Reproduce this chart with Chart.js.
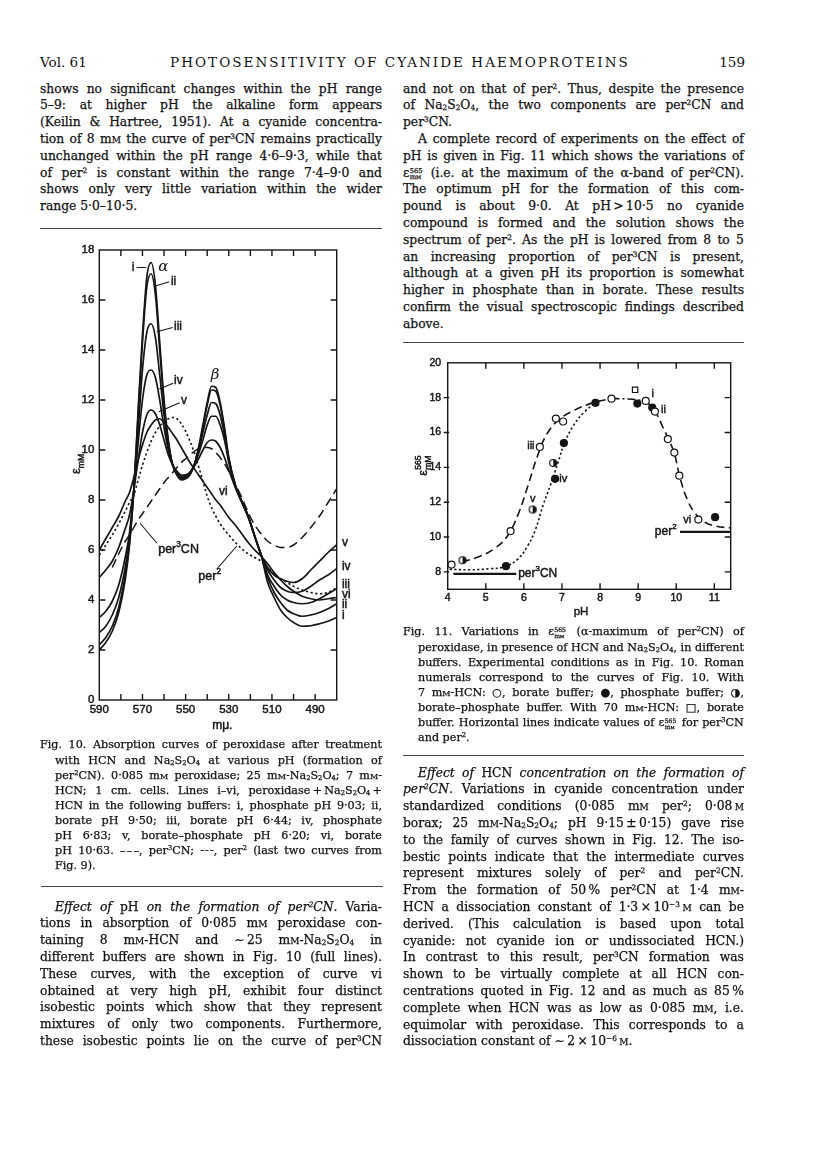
<!DOCTYPE html>
<html>
<head>
<meta charset="utf-8">
<script src="https://cdn.jsdelivr.net/npm/chart.js@4.4.1/dist/chart.umd.min.js"></script>
<style>
  body { margin: 0; background: #fff; }
  #page { position: relative; width: 816px; height: 1155px; overflow: hidden; color: #111; font-family: "DejaVu Serif", serif; -webkit-text-stroke: 0.25px #111; }
  .ln { position: absolute; display: flex; justify-content: space-between; white-space: nowrap; }
  .hd { position: absolute; top: 53px; font-size: 13.5px; line-height: 18px; white-space: nowrap; -webkit-text-stroke: 0; }
  .rule { position: absolute; height: 0; border-top: 1px solid #444; }
  sup { font-size: .6em; vertical-align: .55em; line-height: 0; }
  sub { font-size: .6em; vertical-align: -.2em; line-height: 0; }
  k { font-variant: small-caps; }
  z { display: inline-flex; flex-direction: column; font-size: .55em; line-height: .95; vertical-align: .55em; margin: 0 .2em 0 .05em; }
  zu, zd { display: block; }
  canvas { position: absolute; }
</style>
</head>
<body>
<div id="page">
  <div class="hd" style="left:40px">Vol. 61</div>
  <div class="hd" style="left:170px;letter-spacing:2.05px">PHOTOSENSITIVITY OF CYANIDE HAEMOPROTEINS</div>
  <div class="hd" style="right:71px">159</div>
  <div class="rule" style="left:40px;width:342px;top:228px"></div>
  <div class="rule" style="left:403px;width:341px;top:342px"></div>
  <div class="rule" style="left:403px;width:341px;top:755px"></div>
  <div class="rule" style="left:41px;width:342px;top:886px"></div>
  <canvas id="fig10" width="310" height="500" style="left:55px;top:238px"></canvas>
  <canvas id="fig11" width="360" height="275" style="left:395px;top:350px"></canvas>
</div>
<script>
const ink = '#151515';
const sans = '"Liberation Sans", Arial, sans-serif';

// ---- Fig. 10: absorption curves (wavelength, m-mu) ----
const wl = [590, 587, 584, 581, 578, 576, 574, 572, 570, 568, 566, 564, 562, 560, 558, 556, 554, 552, 550, 548, 546, 544,
            542, 540, 538, 536, 534, 532, 530, 527, 524, 521, 518, 515, 512, 509, 506, 503, 500, 496, 492, 488, 484, 480];
const curveI   = [2.0, 2.3, 2.75, 3.5, 4.8, 6.2, 8.4, 11.6, 14.6, 16.9, 17.5, 16.6, 14.3, 12.0, 10.4, 9.4, 9.0, 8.8, 8.85, 9.0, 9.4, 10.1,
                  11.0, 11.9, 12.55, 12.5, 11.9, 10.9, 9.7, 8.6, 7.95, 7.35, 6.55, 5.8, 4.7, 4.1, 3.6, 3.3, 3.1, 2.95, 2.97, 3.05, 3.15, 3.3];
const curveII  = [2.2, 2.5, 2.95, 3.7, 5.0, 6.3, 8.4, 11.4, 14.3, 16.5, 17.05, 16.2, 14.0, 11.8, 10.3, 9.4, 9.0, 8.85, 8.9, 9.05, 9.4, 10.05,
                  10.9, 11.8, 12.4, 12.35, 11.8, 10.8, 9.65, 8.6, 7.95, 7.35, 6.55, 5.8, 4.9, 4.3, 3.9, 3.6, 3.45, 3.35, 3.4, 3.5, 3.65, 3.85];
const curveIII = [2.7, 2.95, 3.4, 4.1, 5.3, 6.5, 8.4, 10.8, 13.2, 14.7, 15.05, 14.5, 13.0, 11.4, 10.1, 9.4, 9.05, 8.9, 8.95, 9.1, 9.4, 9.95,
                  10.7, 11.4, 11.9, 11.85, 11.4, 10.6, 9.6, 8.6, 7.95, 7.35, 6.55, 5.8, 5.0, 4.55, 4.2, 4.0, 3.9, 3.85, 3.9, 4.05, 4.25, 4.45];
const curveIV  = [3.3, 3.55, 3.95, 4.6, 5.7, 6.7, 8.4, 10.3, 12.0, 13.0, 13.2, 12.9, 12.0, 10.9, 10.0, 9.4, 9.1, 8.95, 9.0, 9.1, 9.4, 9.85,
                  10.4, 11.0, 11.35, 11.35, 11.0, 10.4, 9.5, 8.55, 7.95, 7.35, 6.55, 5.8, 5.2, 4.8, 4.5, 4.35, 4.3, 4.35, 4.55, 4.8, 5.0, 5.25];
const curveV   = [4.9, 5.2, 5.55, 6.1, 6.85, 7.4, 8.4, 9.6, 10.7, 11.4, 11.6, 11.45, 11.0, 10.4, 9.8, 9.4, 9.15, 9.0, 9.0, 9.1, 9.35, 9.65,
                  10.0, 10.3, 10.4, 10.35, 10.1, 9.7, 9.2, 8.5, 7.9, 7.3, 6.55, 5.8, 5.3, 5.0, 4.85, 4.75, 4.7, 4.85, 5.2, 5.55, 5.9, 6.2];
const curveVI  = [6.0, 6.45, 6.9, 7.35, 7.95, 8.3, 8.9, 9.6, 10.2, 10.7, 11.0, 11.2, 11.25, 11.1, 10.9, 10.65, 10.4, 10.1, 9.8, 9.5, 9.25, 9.0,
                  8.75, 8.5, 8.25, 8.0, 7.8, 7.55, 7.3, 7.0, 6.65, 6.3, 6.0, 5.75, 5.45, 5.1, 4.8, 4.55, 4.35, 4.15, 4.05, 4.0, 4.05, 4.1];
const per3CN   = [null, null, 5.3, 5.85, 6.35, 6.6, 6.9, 7.2, 7.45, 7.7, 7.95, 8.2, 8.45, 8.7, 8.9, 9.1, 9.3, 9.5, 9.65, 9.8, 9.95, 10.05,
                  10.1, 10.1, 10.05, 9.9, 9.7, 9.45, 9.15, 8.65, 8.1, 7.5, 7.0, 6.65, 6.35, 6.2, 6.1, 6.1, 6.2, 6.5, 6.9, 7.35, 7.9, 8.45];
const per2     = [5.8, 6.2, 6.6, 7.05, 7.55, 7.9, 8.2, 8.8, 9.4, 9.9, 10.35, 10.7, 10.95, 11.15, 11.25, 11.3, 11.25, 11.05, 10.75, 10.35, 9.9, 9.35,
                  8.75, 8.15, 7.7, 7.35, 7.05, 6.8, 6.6, 6.3, 6.05, 5.85, 5.7, 5.55, 5.3, 5.05, 4.85, 4.7, 4.55, 4.4, 4.3, 4.25, 4.3, 4.5];
const fig10XLabels = [590, 570, 550, 530, 510, 490];
const fig10XMarks = [580, 570, 560, 550, 540, 530, 520, 510, 500, 490];
const fig10YMarks = [2, 4, 6, 8, 10, 12, 14, 16];

// ---- Fig. 11: epsilon 565 against pH ----
const boratePH = [4.10, 5.65, 6.42, 6.84, 7.03, 8.30, 9.20, 9.44, 9.78, 9.95, 10.08, 10.58];
const borateE  = [8.42, 10.34, 15.17, 16.80, 16.63, 17.94, 17.81, 17.20, 15.62, 14.85, 13.52, 11.00];
const phosPH   = [5.53, 6.82, 7.05, 7.88, 8.98, 9.37, 11.02];
const phosE    = [8.33, 13.34, 15.39, 17.70, 17.66, 17.43, 11.14];
const mixPH    = [4.39, 6.23, 6.77];
const mixE     = [8.67, 11.58, 14.25];
const hcn70PH  = [8.92];
const hcn70E   = [18.45];
const borUpPH  = [4.38, 4.8, 5.2, 5.55, 5.85, 6.1, 6.35, 6.6, 6.9, 7.3, 7.8, 8.3];
const borUpE   = [8.58, 8.85, 9.3, 10.0, 11.3, 12.9, 14.6, 15.9, 16.7, 17.25, 17.7, 17.95];
const borTopPH = [8.3, 8.75, 9.2];
const borTopE  = [17.95, 17.92, 17.82];
const borDnPH  = [9.2, 9.45, 9.65, 9.8, 9.95, 10.1, 10.3, 10.5, 10.75, 11.05, 11.43];
const borDnE   = [17.82, 17.2, 16.3, 15.6, 14.8, 13.4, 12.1, 11.35, 10.85, 10.62, 10.52];
const phCurvePH = [4.05, 4.6, 5.1, 5.5, 5.85, 6.1, 6.3, 6.5, 6.7, 6.9, 7.05, 7.3, 7.6, 7.88];
const phCurveE  = [8.15, 8.12, 8.18, 8.3, 8.75, 9.5, 10.4, 11.8, 13.0, 14.3, 15.3, 16.4, 17.2, 17.7];
const per3LinePH = [4.15, 5.8];
const per3LineE  = [7.88, 7.88];
const per2LinePH = [10.1, 11.43];
const per2LineE  = [10.3, 10.3];
const fig11XMarks = [5, 6, 7, 8, 9, 10, 11];
const fig11YMarks = [8, 10, 12, 14, 16, 18];

// text labels inside the figures (data units)
const fig10Labels = [
  { t: 'i', x: 574.4, y: 17.3, align: 'center' }, { t: 'ii', x: 556.8, y: 16.73, align: 'left' },
  { t: 'iii', x: 555.4, y: 14.93, align: 'left' }, { t: 'iv', x: 555.4, y: 12.76, align: 'left' },
  { t: 'v', x: 552.1, y: 11.97, align: 'left' }, { t: 'vi', x: 532.5, y: 8.33, align: 'center' },
  { t: 'v', x: 477.6, y: 6.29, align: 'left' }, { t: 'iv', x: 477.6, y: 5.33, align: 'left' },
  { t: 'iii', x: 477.6, y: 4.6, align: 'left' }, { t: 'vi', x: 477.6, y: 4.2, align: 'left' },
  { t: 'ii', x: 477.6, y: 3.8, align: 'left' }, { t: 'i', x: 477.6, y: 3.36, align: 'left' }
];
const fig10Greek = [{ t: 'α', x: 560.3, y: 17.33 }, { t: 'β', x: 536.4, y: 13.0 }];
const fig10Leaders = [[572.7, 17.3, 568.2, 17.3], [564.4, 16.55, 557.6, 16.73], [563.4, 14.73, 556.0, 14.9],
                      [562.2, 12.44, 555.8, 12.67], [562.4, 11.53, 552.8, 11.89], [571.1, 7.07, 563.3, 6.27],
                      [535.6, 5.23, 526.3, 6.16]];
const fig11Labels = [
  { t: 'iii', x: 6.28, y: 15.2, align: 'right' }, { t: 'v', x: 6.23, y: 12.2, align: 'center' },
  { t: 'iv', x: 6.93, y: 13.34, align: 'left' }, { t: 'i', x: 9.38, y: 18.2, align: 'center' },
  { t: 'ii', x: 9.6, y: 17.28, align: 'left' }, { t: 'vi', x: 10.29, y: 11.0, align: 'center' }
];

function pts(xs, ys) {
  const out = [];
  xs.forEach((v, i) => { if (ys[i] !== null) out.push({ x: v, y: ys[i] }); });
  return out;
}

// text with superscripts / subscripts: parts = [text, shift(1 up, -1 down), noAdvance]
function rich(ctx, parts, x, y, size, align) {
  const w = parts.map(p => { ctx.font = (p[1] ? size * 0.66 : size) + 'px ' + sans; return p[2] ? 0 : ctx.measureText(p[0]).width; });
  const total = w.reduce((a, b) => a + b, 0);
  let cx = align === 'right' ? x - total : align === 'center' ? x - total / 2 : x;
  ctx.textAlign = 'left';
  ctx.textBaseline = 'middle';
  ctx.strokeStyle = ink;
  ctx.lineWidth = 0.45;
  parts.forEach((p, i) => {
    ctx.font = (p[1] ? size * 0.66 : size) + 'px ' + sans;
    const ty = y - p[1] * size * 0.4;
    ctx.fillText(p[0], cx, ty);
    ctx.strokeText(p[0], cx, ty);
    cx += w[i];
  });
}

function frame(marks, outLeft) {
  return {
    id: 'frame',
    afterDraw(chart) {
      const { ctx, chartArea: a, scales: { x, y } } = chart;
      const L = 6;
      ctx.save();
      ctx.strokeStyle = ink;
      ctx.lineWidth = 1.4;
      ctx.strokeRect(a.left, a.top, a.right - a.left, a.bottom - a.top);
      ctx.beginPath();
      marks.x.forEach(v => {
        const p = x.getPixelForValue(v);
        ctx.moveTo(p, a.bottom); ctx.lineTo(p, a.bottom - L);
        ctx.moveTo(p, a.top); ctx.lineTo(p, a.top + L);
      });
      marks.y.forEach(v => {
        const p = y.getPixelForValue(v);
        if (outLeft) { ctx.moveTo(a.left - 4, p); ctx.lineTo(a.left + 1.5, p); }
        else { ctx.moveTo(a.left, p); ctx.lineTo(a.left + L, p); }
        ctx.moveTo(a.right, p); ctx.lineTo(a.right - L, p);
      });
      ctx.stroke();
      ctx.restore();
    }
  };
}

const line = (data, dash, extra) => Object.assign({
  data, showLine: true, pointRadius: 0, borderColor: ink, borderWidth: 1.7, borderDash: dash || [],
  cubicInterpolationMode: 'monotone', fill: false
}, extra || {});

const tickStyle = (size, pad) => ({
  padding: pad, color: ink, font: { family: sans, size }, maxRotation: 0,
  textStrokeColor: ink, textStrokeWidth: 0.45
});

// ---------- Fig. 10 ----------
new Chart(document.getElementById('fig10'), {
  type: 'scatter',
  data: {
    datasets: [
      line(pts(wl, curveI)), line(pts(wl, curveII)), line(pts(wl, curveIII)),
      line(pts(wl, curveIV)), line(pts(wl, curveV)), line(pts(wl, curveVI)),
      line(pts(wl, per3CN), [9, 5], { borderWidth: 1.5 }),
      line(pts(wl, per2), [2.2, 2.6], { borderWidth: 1.6 })
    ]
  },
  options: {
    responsive: false, animation: false, devicePixelRatio: 1, events: [],
    layout: { padding: { top: 12, right: 28.3, left: 0, bottom: 0 } },
    plugins: { legend: { display: false }, tooltip: { enabled: false } },
    scales: {
      x: {
        type: 'linear', min: 480, max: 590, reverse: true,
        afterBuildTicks: s => { s.ticks = fig10XLabels.map(v => ({ value: v })); },
        afterFit: s => { s.height = 38; },
        grid: { display: false, drawTicks: false }, border: { display: false },
        ticks: tickStyle(11.5, 3.4)
      },
      y: {
        type: 'linear', min: 0, max: 18,
        afterFit: s => { s.width = 44.3; },
        grid: { display: false, drawTicks: false }, border: { display: false },
        ticks: Object.assign(tickStyle(11.5, 5), { stepSize: 2 })
      }
    }
  },
  plugins: [frame({ x: fig10XMarks, y: fig10YMarks }, false), {
    id: 'labels10',
    afterDraw(chart) {
      const { ctx, chartArea: a, scales: { x, y } } = chart;
      ctx.save();
      ctx.fillStyle = ink;
      ctx.strokeStyle = ink;
      ctx.lineWidth = 1.1;
      ctx.beginPath();
      fig10Leaders.forEach(l => {
        ctx.moveTo(x.getPixelForValue(l[0]), y.getPixelForValue(l[1]));
        ctx.lineTo(x.getPixelForValue(l[2]), y.getPixelForValue(l[3]));
      });
      ctx.stroke();
      fig10Labels.forEach(l => rich(ctx, [[l.t, 0]], x.getPixelForValue(l.x), y.getPixelForValue(l.y), 12, l.align));
      ctx.font = 'italic 15px "DejaVu Serif", serif';
      ctx.textAlign = 'center';
      fig10Greek.forEach(g => ctx.fillText(g.t, x.getPixelForValue(g.x), y.getPixelForValue(g.y)));
      rich(ctx, [['per', 0], ['3', 1], ['CN', 0]], x.getPixelForValue(562.7), y.getPixelForValue(6.0), 12.5, 'left');
      rich(ctx, [['per', 0], ['2', 1]], x.getPixelForValue(544.1), y.getPixelForValue(4.93), 12.5, 'left');
      rich(ctx, [['m', 0], ['\u03bc.', 0]], x.getPixelForValue(533), a.bottom + 26, 12, 'center');
      ctx.translate(a.left - 23, y.getPixelForValue(9.44));
      ctx.rotate(-Math.PI / 2);
      rich(ctx, [['\u03b5', 0], ['mM', -1]], 0, 0, 13, 'center');
      ctx.restore();
    }
  }]
});

// ---------- Fig. 11 ----------
function halfMarker() {
  const c = document.createElement('canvas');
  c.width = 10; c.height = 10;
  const g = c.getContext('2d');
  g.fillStyle = '#fff';
  g.beginPath(); g.arc(5, 5, 3.5, 0, Math.PI * 2); g.fill();
  g.fillStyle = ink;
  g.beginPath(); g.arc(5, 5, 3.5, -Math.PI / 2, Math.PI / 2); g.closePath(); g.fill();
  g.strokeStyle = ink; g.lineWidth = 1.2;
  g.beginPath(); g.arc(5, 5, 3.5, 0, Math.PI * 2); g.stroke();
  return c;
}
const marks = (data, fillc, style, r) => ({
  data, showLine: false, pointStyle: style || 'circle', pointRadius: r || 3.5,
  pointBackgroundColor: fillc, pointBorderColor: ink, pointBorderWidth: 1.2
});

new Chart(document.getElementById('fig11'), {
  type: 'scatter',
  data: {
    datasets: [
      marks(pts(boratePH, borateE), '#fff'),
      marks(pts(phosPH, phosE), ink),
      marks(pts(mixPH, mixE), ink, halfMarker()),
      marks(pts(hcn70PH, hcn70E), '#fff', 'rect', 3.8),
      line(pts(borUpPH, borUpE), [8, 4.5], { cubicInterpolationMode: 'default', tension: 0.4, borderWidth: 1.6 }),
      line(pts(borTopPH, borTopE), [8, 3, 2, 3], { cubicInterpolationMode: 'default', tension: 0.4, borderWidth: 1.6 }),
      line(pts(borDnPH, borDnE), [8, 4.5], { cubicInterpolationMode: 'default', tension: 0.4, borderWidth: 1.6 }),
      line(pts(phCurvePH, phCurveE), [2.2, 2.4], { cubicInterpolationMode: 'default', tension: 0.4, borderWidth: 1.6 }),
      line(pts(per3LinePH, per3LineE), [], { borderWidth: 2.2 }),
      line(pts(per2LinePH, per2LineE), [], { borderWidth: 2.2 })
    ]
  },
  options: {
    responsive: false, animation: false, devicePixelRatio: 1, events: [],
    layout: { padding: { top: 11, right: 24.3, left: 0, bottom: 0 } },
    plugins: { legend: { display: false }, tooltip: { enabled: false } },
    scales: {
      x: {
        type: 'linear', min: 4, max: 11.43,
        afterBuildTicks: s => { s.ticks = [4, 5, 6, 7, 8, 9, 10, 11].map(v => ({ value: v })); },
        afterFit: s => { s.height = 35.7; },
        grid: { display: false, drawTicks: false }, border: { display: false },
        ticks: tickStyle(10.5, 2.4)
      },
      y: {
        type: 'linear', min: 7, max: 20,
        afterBuildTicks: s => { s.ticks = [8, 10, 12, 14, 16, 18, 20].map(v => ({ value: v })); },
        afterFit: s => { s.width = 52.7; },
        grid: { display: false, drawTicks: false }, border: { display: false },
        ticks: tickStyle(10.5, 6.5)
      }
    }
  },
  plugins: [frame({ x: fig11XMarks, y: fig11YMarks }, true), {
    id: 'labels11',
    afterDraw(chart) {
      const { ctx, chartArea: a, scales: { x, y } } = chart;
      ctx.save();
      ctx.fillStyle = ink;
      fig11Labels.forEach(l => rich(ctx, [[l.t, 0]], x.getPixelForValue(l.x), y.getPixelForValue(l.y), 11, l.align));
      rich(ctx, [['per', 0], ['3', 1], ['CN', 0]], x.getPixelForValue(5.85), y.getPixelForValue(7.9), 12, 'left');
      rich(ctx, [['per', 0], ['2', 1]], x.getPixelForValue(10.01), y.getPixelForValue(10.3), 12, 'right');
      rich(ctx, [['pH', 0]], x.getPixelForValue(7.5), a.bottom + 22.4, 11.5, 'center');
      ctx.translate(a.left - 24, y.getPixelForValue(14.1));
      ctx.rotate(-Math.PI / 2);
      rich(ctx, [['\u03b5', 0], ['565', 1, true], ['mM', -1]], 0, 0, 13, 'center');
      ctx.restore();
    }
  }]
});

// ---------- page text ----------
const eps = 'ε<z><zu>565</zu><zd>m<k>m</k></zd></z>';
const blocks = [
  { x: 40, y: 89, w: 342, lh: 16.8, size: 12.3, ind: 15, lines: [
    'shows no significant changes within the pH range',
    '5–9: at higher pH the alkaline form appears',
    '(Keilin &amp; Hartree, 1951). At a cyanide concentra-',
    'tion of 8 m<k>m</k> the curve of per<sup>3</sup>CN remains practically',
    'unchanged within the pH range 4·6–9·3, while that',
    'of per<sup>2</sup> is constant within the range 7·4–9·0 and',
    'shows only very little variation within the wider',
    'range 5·0–10·5.$'] },
  { x: 403, y: 89, w: 341, lh: 16.8, size: 12.3, ind: 15, lines: [
    'and not on that of per<sup>2</sup>. Thus, despite the presence',
    'of Na<sub>2</sub>S<sub>2</sub>O<sub>4</sub>, the two components are per<sup>2</sup>CN and',
    'per<sup>3</sup>CN.$',
    '¶A complete record of experiments on the effect of',
    'pH is given in Fig. 11 which shows the variations of',
    eps + ' (i.e. at the maximum of the α-band of per<sup>2</sup>CN).',
    'The optimum pH for the formation of this com-',
    'pound is about 9·0. At pH&#8201;&gt;&#8201;10·5 no cyanide',
    'compound is formed and the solution shows the',
    'spectrum of per<sup>2</sup>. As the pH is lowered from 8 to 5',
    'an increasing proportion of per<sup>3</sup>CN is present,',
    'although at a given pH its proportion is somewhat',
    'higher in phosphate than in borate. These results',
    'confirm the visual spectroscopic findings described',
    'above.$'] },
  { x: 40, y: 745, w: 342, lh: 15.1, size: 11.2, ind: 15, lines: [
    'Fig. 10. Absorption curves of peroxidase after treatment',
    '¶with HCN and Na<sub>2</sub>S<sub>2</sub>O<sub>4</sub> at various pH (formation of',
    '¶per<sup>2</sup>CN). 0·085 m<k>m</k> peroxidase; 25 m<k>m</k>-Na<sub>2</sub>S<sub>2</sub>O<sub>4</sub>; 7 m<k>m</k>-',
    '¶HCN; 1 cm. cells. Lines i–vi, peroxidase&#8201;+&#8201;Na<sub>2</sub>S<sub>2</sub>O<sub>4</sub>&#8201;+',
    '¶HCN in the following buffers: i, phosphate pH 9·03; ii,',
    '¶borate pH 9·50; iii, borate pH 6·44; iv, phosphate',
    '¶pH 6·83; v, borate–phosphate pH 6·20; vi, borate',
    '¶pH 10·63. –&#8202;–&#8202;–, per<sup>3</sup>CN; -&#8202;-&#8202;-, per<sup>2</sup> (last two curves from',
    '¶Fig. 9).$'] },
  { x: 40, y: 907, w: 342, lh: 16.8, size: 12.3, ind: 15, lines: [
    '¶<i>Effect</i> <i>of</i> pH <i>on</i> <i>the</i> <i>formation</i> <i>of</i> <i>per<sup>2</sup>CN</i>. Varia-',
    'tions in absorption of 0·085 m<k>m</k> peroxidase con-',
    'taining 8 m<k>m</k>-HCN and ∼&#8201;25 m<k>m</k>-Na<sub>2</sub>S<sub>2</sub>O<sub>4</sub> in',
    'different buffers are shown in Fig. 10 (full lines).',
    'These curves, with the exception of curve vi',
    'obtained at very high pH, exhibit four distinct',
    'isobestic points which show that they represent',
    'mixtures of only two components. Furthermore,',
    'these isobestic points lie on the curve of per<sup>3</sup>CN'] },
  { x: 403, y: 632, w: 341, lh: 15.1, size: 11.2, ind: 15, lines: [
    'Fig. 11. Variations in ' + eps + ' (α-maximum of per<sup>2</sup>CN) of',
    '¶peroxidase, in presence of HCN and Na<sub>2</sub>S<sub>2</sub>O<sub>4</sub>, in different',
    '¶buffers. Experimental conditions as in Fig. 10. Roman',
    '¶numerals correspond to the curves of Fig. 10. With',
    '¶7 m<k>m</k>-HCN: ○, borate buffer; ●, phosphate buffer; ◑,',
    '¶borate–phosphate buffer. With 70 m<k>m</k>-HCN: □, borate',
    '¶buffer. Horizontal lines indicate values of ' + eps + ' for per<sup>3</sup>CN',
    '¶and per<sup>2</sup>.$'] },
  { x: 403, y: 773, w: 341, lh: 16.8, size: 12.3, ind: 15, lines: [
    '¶<i>Effect</i> <i>of</i> HCN <i>concentration</i> <i>on</i> <i>the</i> <i>formation</i> <i>of</i>',
    '<i>per<sup>2</sup>CN</i>. Variations in cyanide concentration under',
    'standardized conditions (0·085 m<k>m</k> per<sup>2</sup>; 0·08&#8201;<k>m</k>',
    'borax; 25 m<k>m</k>-Na<sub>2</sub>S<sub>2</sub>O<sub>4</sub>; pH 9·15&#8201;±&#8201;0·15) gave rise',
    'to the family of curves shown in Fig. 12. The iso-',
    'bestic points indicate that the intermediate curves',
    'represent mixtures solely of per<sup>2</sup> and per<sup>2</sup>CN.',
    'From the formation of 50&#8201;% per<sup>2</sup>CN at 1·4 m<k>m</k>-',
    'HCN a dissociation constant of 1·3&#8201;×&#8201;10<sup>−3</sup>&#8201;<k>m</k> can be',
    'derived. (This calculation is based upon total',
    'cyanide: not cyanide ion or undissociated HCN.)',
    'In contrast to this result, per<sup>3</sup>CN formation was',
    'shown to be virtually complete at all HCN con-',
    'centrations quoted in Fig. 12 and as much as 85&#8201;%',
    'complete when HCN was as low as 0·085 m<k>m</k>, i.e.',
    'equimolar with peroxidase. This corresponds to a',
    'dissociation constant of ∼&#8201;2&#8201;×&#8201;10<sup>−6</sup>&#8201;<k>m</k>.$'] }
];

const page = document.getElementById('page');
blocks.forEach(b => {
  b.lines.forEach((raw, i) => {
    let s = raw, ind = 0, just = true;
    if (s.startsWith('¶')) { s = s.slice(1); ind = b.ind; }
    if (s.endsWith('$')) { s = s.slice(0, -1); just = false; }
    const d = document.createElement('div');
    d.className = 'ln';
    d.style.left = (b.x + ind) + 'px';
    d.style.top = (b.y + i * b.lh - b.lh / 2) + 'px';
    d.style.width = (b.w - ind) + 'px';
    d.style.fontSize = b.size + 'px';
    d.style.lineHeight = b.lh + 'px';
    if (just) d.innerHTML = s.split(' ').map(w => '<span>' + w + '</span>').join('');
    else { d.style.display = 'block'; d.innerHTML = s; }
    page.appendChild(d);
  });
});
</script>
</body>
</html>
